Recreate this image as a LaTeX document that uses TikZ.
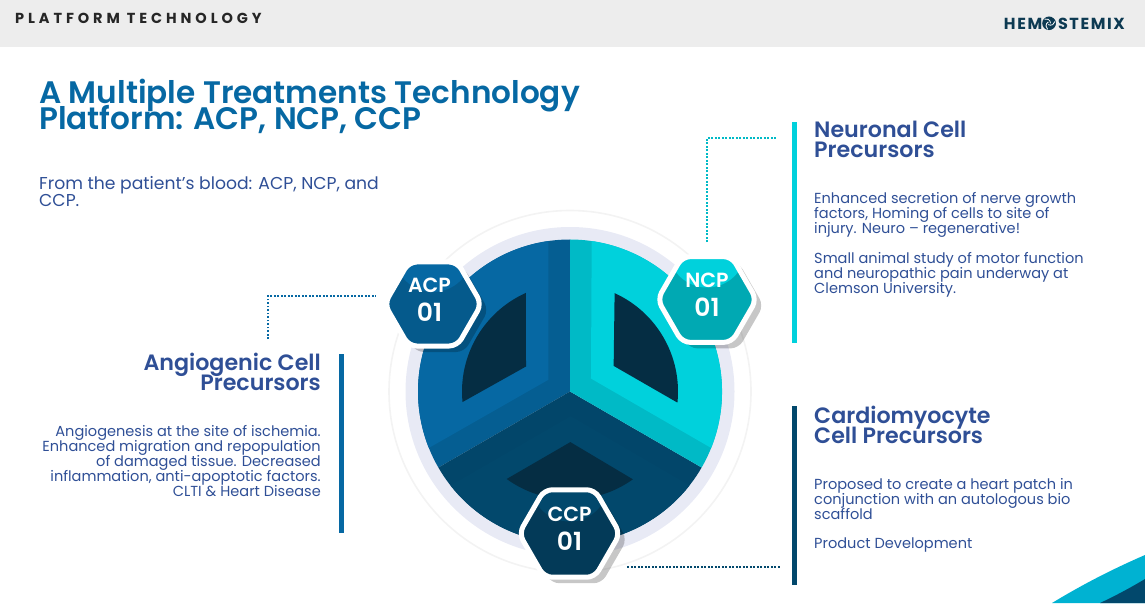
\documentclass[tikz,border=0pt]{standalone}
\usepackage{fontspec}
\setmainfont{Poppins}[BoldFont={Poppins SemiBold}]
\newfontfamily\strongfont{Poppins Bold}
\usepackage{xcolor}
\usetikzlibrary{shapes.geometric,shadows}

\definecolor{barGray}{HTML}{EDEDED}
\definecolor{logoNavy}{HTML}{0D3A52}
\definecolor{titleBlue}{HTML}{0668A3}
\definecolor{inkBlue}{HTML}{2F4F96}
\definecolor{ringPale}{HTML}{E8EAF5}
\definecolor{ringThin}{HTML}{F3F3F3}
\definecolor{holeDark}{HTML}{052D43}
\definecolor{acpMain}{HTML}{0668A3}
\definecolor{acpBand}{HTML}{055E92}
\definecolor{acpLow}{HTML}{055A8C}
\definecolor{ncpMain}{HTML}{00D1DC}
\definecolor{ncpBand}{HTML}{00BAC6}
\definecolor{ncpLow}{HTML}{00A9B3}
\definecolor{ccpMain}{HTML}{02486C}
\definecolor{ccpBand}{HTML}{02466A}
\definecolor{ccpLow}{HTML}{033A58}
\definecolor{swooshCyan}{HTML}{00B2D2}

\newcommand{\tightlines}{\lineskiplimit=-100pt\relax}
\newcommand{\hexnum}[1]{\\[9pt]{\fontsize{25}{25}\selectfont #1}}

\tikzset{
    hexnode/.style 2 args={regular polygon, regular polygon sides=6, minimum size=99pt, inner sep=0pt,
        draw=white, line width=5pt, rounded corners=8pt, fill=#2,
        general shadow={shadow xshift=7pt, shadow yshift=-6pt, fill=black, opacity=.22},
        path picture={\fill[#1] ([yshift=51pt]path picture bounding box.center) circle (39pt);}},
    hextext/.style={align=center, text=white, yshift=4.5pt, font=\tightlines\fontsize{20.5}{20}\selectfont\bfseries},
    dotline/.style={line width=1.8pt, dash pattern=on 1.8pt off 1.7pt},
    sidebar/.style={minimum width=4.5pt, inner sep=0pt, anchor=north west},
    headtext/.style={font=\tightlines\fontsize{22.2}{20}\selectfont\bfseries, text=inkBlue, inner sep=0pt},
    bodytext/.style={font=\tightlines\fontsize{14.55}{15.1}\selectfont, text=inkBlue, inner sep=0pt},
}

\begin{document}
\begin{tikzpicture}[x=1pt, y=1pt]
    \useasboundingbox (0,0) rectangle (1145,603);

    \fill[barGray] (0,556) rectangle (1145,603);
    \node[anchor=west, inner sep=0pt, text=black!85, font=\strongfont\fontsize{14.5}{15}\selectfont\addfontfeature{LetterSpace=27}] (header) at (15,585) {PLATFORM TECHNOLOGY};
    \node[anchor=east, inner sep=0pt, text=logoNavy, font=\strongfont\fontsize{16}{16}\selectfont\addfontfeature{LetterSpace=10}] (logo) at (1125,579) {HEMOSTEMIX};
    \coordinate (swirl) at (1049,579.7);
    \fill[logoNavy] (swirl) circle (6.8pt);
    \foreach \turn in {0,120,240}
        \draw[white, line width=.8pt, shift={(swirl)}, rotate=\turn] (1.5,0) arc[start angle=0, end angle=110, radius=4.5pt];

    \node[anchor=north west, inner sep=0pt, align=left, text=titleBlue, font=\tightlines\fontsize{31.1}{26}\selectfont\bfseries] (title) at (39,524) {A Multiple Treatments Technology\\Platform: ACP, NCP, CCP};
    \node[bodytext, anchor=north west, align=left, font=\tightlines\fontsize{17.2}{17}\selectfont] (intro) at (39,427) {From the patient’s blood: ACP, NCP, and\\CCP.};

    \coordinate (hub) at (570,211.5);
    \draw[ringThin, line width=1.6pt] (hub) circle (181pt);
    \fill[ringPale] (hub) circle (164.5pt);

    \foreach \rot/\colA/\colB in {0/acpBand/acpMain, 120/ccpBand/ccpMain, 240/ncpBand/ncpMain} {
        \begin{scope}[shift={(hub)}, rotate=\rot]
            \fill[\colA] (0,0) -- (90:152) arc[start angle=90, end angle=210, radius=152pt] -- cycle;
            \fill[\colB] (-21.7,11.7) -- (98.2:152) arc[start angle=98.2, end angle=201.8, radius=152pt] -- cycle;
            \fill[holeDark] (-44,25) -- (114.1:108) arc[start angle=114.1, end angle=185.6, radius=108pt] -- cycle;
        \end{scope}
    }

    \node[hexnode={acpMain}{acpLow}, minimum size=97pt, label={[hextext, xshift=-3.5pt]center:ACP\hexnum{01}}] (acp) at (433,299) {};
    \node[hexnode={ncpMain}{ncpLow}, label={[hextext]center:NCP\hexnum{01}}] (ncp) at (707,303.5) {};
    \node[hexnode={ccpMain}{ccpLow}, minimum size=101pt, label={[hextext]center:CCP\hexnum{01}}] (ccp) at (569.5,69.5) {};

    \node[sidebar, fill=ncpMain, minimum height=221pt] (ncpbar) at (792,481) {};
    \node[sidebar, fill=ccpMain, minimum height=179pt] (ccpbar) at (792,197) {};
    \node[sidebar, fill=acpMain, minimum height=179pt] (acpbar) at (339,249) {};

    \coordinate (ncpend) at (777,465);
    \coordinate (ccpend) at (781,36);
    \coordinate (acpcap) at (268,264);

    \draw[dotline, ncpBand, shorten <=12pt] (ncp.north) |- (ncpend);
    \draw[dotline, ccpMain, shorten <=24pt] (ccp.-45) -- (ccp.-45 -| ccpend);
    \draw[dotline, acpMain, shorten >=10pt] (acpcap) |- (acp.170);

    \node[headtext, anchor=north west, align=left] (ncphead) at (814,482) {Neuronal Cell\\Precursors};
    \node[bodytext, anchor=north west, align=left] (ncpbody) at (814,411) {Enhanced secretion of nerve growth\\factors, Homing of cells to site of\\injury. Neuro – regenerative!};
    \node[bodytext, anchor=north west, align=left] (ncpnote) at (814,351) {Small animal study of motor function\\and neuropathic pain underway at\\Clemson University.};

    \node[headtext, anchor=north west, align=left] (ccphead) at (814,197) {Cardiomyocyte\\Cell Precursors};
    \node[bodytext, anchor=north west, align=left] (ccpbody) at (814,125) {Proposed to create a heart patch in\\conjunction with an autologous bio\\scaffold};
    \node[bodytext, anchor=north west, align=left] (ccpnote) at (814,65) {Product Development};

    \node[headtext, anchor=north east, align=right] (acphead) at (321,250) {Angiogenic Cell\\Precursors};
    \node[bodytext, anchor=north east, align=right] (acpbody) at (321,178) {Angiogenesis at the site of ischemia.\\Enhanced migration and repopulation\\of damaged tissue. Decreased\\inflammation, anti-apoptotic factors.\\CLTI \& Heart Disease};

    \fill[swooshCyan] (1052,0) .. controls (1085,20) and (1115,35) .. (1145,48) -- (1145,0) -- cycle;
    \fill[ccpMain] (1100,0) .. controls (1115,7) and (1130,15) .. (1145,24) -- (1145,0) -- cycle;
\end{tikzpicture}
\end{document}
